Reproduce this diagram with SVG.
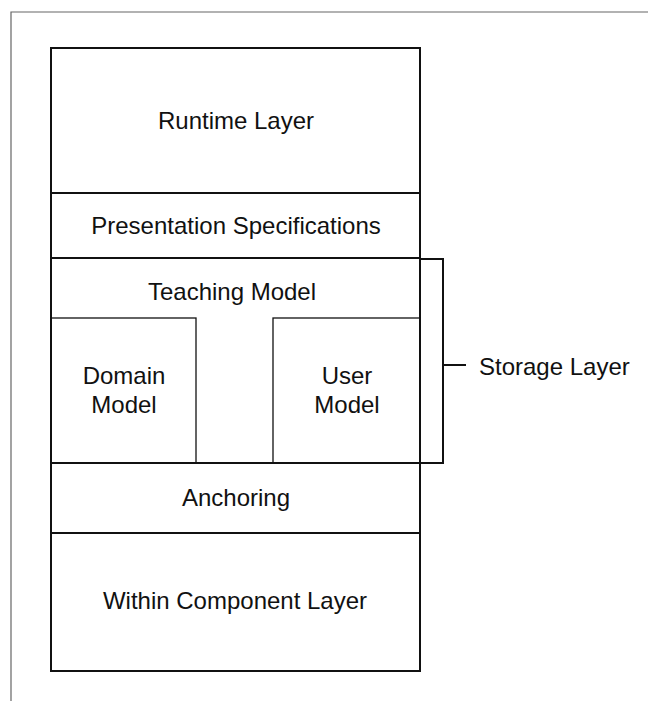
<svg xmlns="http://www.w3.org/2000/svg" width="648" height="701" viewBox="0 0 648 701">
<style>
  .t { font-family: "Liberation Sans", Arial, sans-serif; font-size: 24px; fill: #111; text-anchor: middle; }
  .thick { fill: none; stroke: #111; stroke-width: 2; }
  .thin { fill: none; stroke: #111; stroke-width: 1.3; }
</style>
<rect width="648" height="701" fill="#fff"/>
<path d="M11 701 V12 H648" fill="none" stroke="#666" stroke-width="1.2"/>
<g id="stack">
  <rect class="thick" x="51" y="48" width="369" height="623"/>
</g>
<g id="runtime-layer">
  <text class="t" x="236" y="129">Runtime Layer</text>
</g>
<g id="presentation-specifications">
  <line class="thick" x1="51" y1="193" x2="420" y2="193"/>
  <text class="t" x="236" y="234">Presentation Specifications</text>
</g>
<g id="teaching-model">
  <line class="thick" x1="51" y1="258" x2="420" y2="258"/>
  <text class="t" x="232" y="300">Teaching Model</text>
</g>
<g id="domain-model">
  <rect class="thin" x="51" y="318" width="145" height="145"/>
  <text class="t" x="124" y="384">Domain</text>
  <text class="t" x="124" y="413">Model</text>
</g>
<g id="user-model">
  <rect class="thin" x="273" y="318" width="147" height="145"/>
  <text class="t" x="347" y="384">User</text>
  <text class="t" x="347" y="413">Model</text>
</g>
<g id="anchoring">
  <line class="thick" x1="51" y1="463" x2="420" y2="463"/>
  <text class="t" x="236" y="506">Anchoring</text>
</g>
<g id="within-component-layer">
  <line class="thick" x1="51" y1="533" x2="420" y2="533"/>
  <text class="t" x="235" y="609">Within Component Layer</text>
</g>
<g id="connectors">
  <path class="thick" d="M420 259 H443 V463 H420"/>
  <line class="thick" x1="443" y1="365" x2="466" y2="365"/>
</g>
<g id="storage-layer">
  <text class="t" x="479" y="375" style="text-anchor:start">Storage Layer</text>
</g>
</svg>
